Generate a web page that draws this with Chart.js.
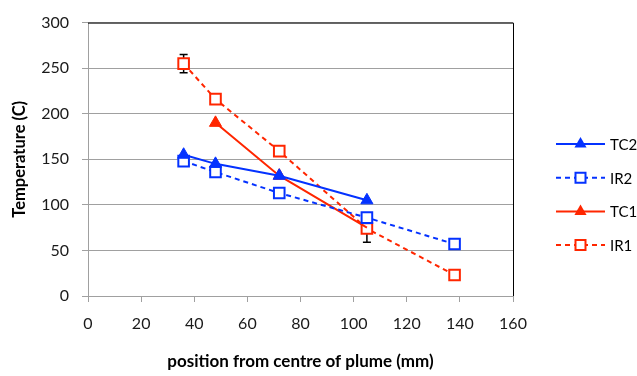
<!DOCTYPE html>
<html>
<head>
<meta charset="utf-8">
<script src="https://cdn.jsdelivr.net/npm/chart.js@4.4.1/dist/chart.umd.min.js"></script>
<style>
  html, body { margin: 0; padding: 0; background: #fff; }
  #wrap { width: 637px; height: 376px; }
</style>
</head>
<body>
<div id="wrap"><canvas id="chart" width="637" height="376"></canvas></div>
<script>
const SERIES_NAMES = ["TC2", "IR2", "TC1", "IR1"];

const TC2_X = [36, 48, 72, 105];
const TC2_Y = [155, 145, 132, 105];

const IR2_X = [36, 48, 72, 105, 138];
const IR2_Y = [148, 136, 113, 86, 57];

const TC1_X = [48, 72, 105];
const TC1_Y = [190, 132, 75];

const IR1_X = [36, 48, 72, 105, 138];
const IR1_Y = [255, 216, 159, 74, 23];
const IR1_ERR = [10, 0, 0, 15, 0];

const Y_TICKS = [0, 50, 100, 150, 200, 250, 300];
const X_TICKS = [0, 20, 40, 60, 80, 100, 120, 140, 160];

const BLUE = "#0432ff";
const RED = "#ff2600";
const FONT = "Lato, 'Liberation Sans', sans-serif";

function toPoints(xs, ys) {
  return xs.map((x, i) => ({ x, y: ys[i] }));
}

const datasets = [
  {
    label: SERIES_NAMES[0],
    data: toPoints(TC2_X, TC2_Y),
    borderColor: BLUE,
    backgroundColor: BLUE,
    borderWidth: 2,
    pointStyle: "triangle",
    pointRadius: 7,
    pointBorderWidth: 1,
  },
  {
    label: SERIES_NAMES[1],
    data: toPoints(IR2_X, IR2_Y),
    borderColor: BLUE,
    backgroundColor: "#fff",
    borderWidth: 2,
    borderDash: [5, 4],
    pointStyle: "rect",
    pointRadius: 7.5,
    pointBorderWidth: 2,
  },
  {
    label: SERIES_NAMES[2],
    data: toPoints(TC1_X, TC1_Y),
    borderColor: RED,
    backgroundColor: RED,
    borderWidth: 2,
    pointStyle: "triangle",
    pointRadius: [7, 7, 0],
    pointBorderWidth: 1,
  },
  {
    label: SERIES_NAMES[3],
    data: toPoints(IR1_X, IR1_Y),
    borderColor: RED,
    backgroundColor: "#fff",
    borderWidth: 2,
    borderDash: [5, 4],
    pointStyle: "rect",
    pointRadius: 7.5,
    pointBorderWidth: 2,
  },
];

// black frame on top/right, error bars under the markers
const framePlugin = {
  id: "frame",
  beforeDatasetsDraw(chart) {
    const { ctx, chartArea: a, scales } = chart;
    ctx.save();
    ctx.strokeStyle = "#000";
    ctx.lineWidth = 1;
    ctx.beginPath();
    ctx.moveTo(a.left, a.top + 0.5);
    ctx.lineTo(a.right + 0.5, a.top + 0.5);
    ctx.lineTo(a.right + 0.5, a.bottom);
    ctx.stroke();

    ctx.lineWidth = 1.5;
    IR1_X.forEach((x, i) => {
      const err = IR1_ERR[i];
      if (!err) return;
      const px = scales.x.getPixelForValue(x);
      const top = scales.y.getPixelForValue(IR1_Y[i] + err);
      const bot = scales.y.getPixelForValue(IR1_Y[i] - err);
      ctx.beginPath();
      ctx.moveTo(px, top);
      ctx.lineTo(px, bot);
      ctx.moveTo(px - 4, top);
      ctx.lineTo(px + 4, top);
      ctx.moveTo(px - 4, bot);
      ctx.lineTo(px + 4, bot);
      ctx.stroke();
    });
    ctx.restore();
  },
};

function drawMarker(ctx, ds, x, y) {
  const r = 7;
  ctx.setLineDash([]);
  ctx.beginPath();
  if (ds.pointStyle === "triangle") {
    ctx.moveTo(x, y - r);
    ctx.lineTo(x + r * 0.866, y + r * 0.5);
    ctx.lineTo(x - r * 0.866, y + r * 0.5);
    ctx.closePath();
    ctx.fillStyle = ds.backgroundColor;
    ctx.fill();
  } else {
    const s = 5;
    ctx.rect(x - s, y - s, 2 * s, 2 * s);
    ctx.fillStyle = "#fff";
    ctx.fill();
    ctx.lineWidth = 2;
    ctx.strokeStyle = ds.borderColor;
    ctx.stroke();
  }
}

const legendPlugin = {
  id: "sideLegend",
  afterDraw(chart) {
    const { ctx } = chart;
    ctx.save();
    chart.data.datasets.forEach((ds, i) => {
      const y = 144 + i * 33.7;
      ctx.strokeStyle = ds.borderColor;
      ctx.lineWidth = 2;
      ctx.setLineDash(ds.borderDash || []);
      ctx.beginPath();
      ctx.moveTo(556, y);
      ctx.lineTo(605, y);
      ctx.stroke();
      drawMarker(ctx, ds, 580.5, y);
      ctx.fillStyle = "#000";
      ctx.font = "15px " + FONT;
      ctx.textAlign = "left";
      ctx.textBaseline = "middle";
      ctx.fillText(ds.label, 610, y + 1);
    });
    ctx.restore();
  },
};

new Chart(document.getElementById("chart"), {
  type: "scatter",
  data: { datasets },
  options: {
    responsive: false,
    devicePixelRatio: 1,
    animation: false,
    showLine: true,
    layout: { padding: { top: 11, right: 124, left: 0, bottom: 0 } },
    plugins: {
      legend: { display: false },
      tooltip: { enabled: false },
    },
    scales: {
      x: {
        type: "linear",
        min: 0,
        max: 160,
        afterBuildTicks: (scale) => {
          scale.ticks = X_TICKS.map((v) => ({ value: v }));
        },
        afterFit: (scale) => {
          scale.height = 80;
        },
        grid: {
          drawOnChartArea: false,
          drawTicks: true,
          tickLength: 6,
          color: "#a0a0a0",
        },
        border: { color: "#a0a0a0", width: 1 },
        ticks: {
          color: "#1a1a1a",
          padding: 12,
          font: { family: FONT, size: 16 },
        },
        title: {
          display: true,
          text: "position from centre of plume (mm)",
          color: "#000",
          font: { family: FONT, size: 17, weight: "bold" },
          padding: { bottom: 4 },
        },
      },
      y: {
        type: "linear",
        min: 0,
        max: 300,
        afterBuildTicks: (scale) => {
          scale.ticks = Y_TICKS.map((v) => ({ value: v }));
        },
        afterFit: (scale) => {
          scale.width = 88;
        },
        grid: {
          color: "#a0a0a0",
          drawTicks: true,
          tickLength: 6,
        },
        border: { color: "#a0a0a0", width: 1 },
        ticks: {
          color: "#1a1a1a",
          padding: 13,
          font: { family: FONT, size: 16 },
        },
        title: {
          display: true,
          text: "Temperature (C)",
          color: "#000",
          font: { family: FONT, size: 16.5, weight: "bold" },
          padding: { top: 10 },
        },
      },
    },
  },
  plugins: [framePlugin, legendPlugin],
});
</script>
</body>
</html>
